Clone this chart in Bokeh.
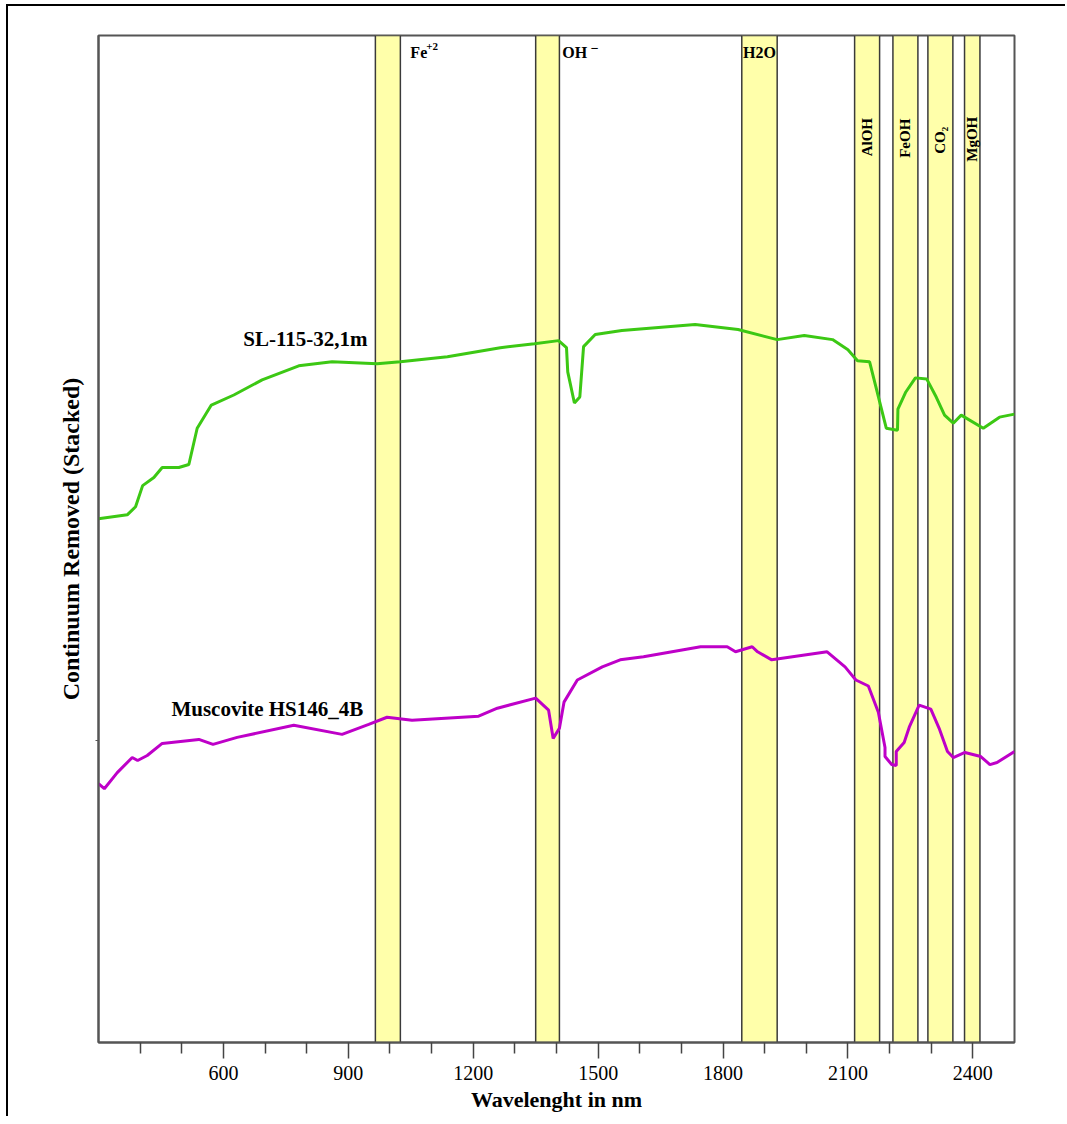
import numpy as np
from bokeh.plotting import figure
from bokeh.models import Range1d, FixedTicker, ColumnDataSource
from bokeh.core.properties import value
from bokeh.embed import file_html
from bokeh.resources import INLINE

# Continuum-removed spectra, stacked (wavelength in nm, offset reflectance)
sl_wl = [300, 369, 389, 406, 433, 453, 493, 517, 537, 571, 625, 693, 781, 861, 969, 1025,
         1138, 1265, 1347, 1405, 1424, 1427, 1443, 1456, 1465, 1493, 1557, 1733, 1836, 1930,
         1995, 2063, 2100, 2123, 2152, 2192, 2219, 2220, 2239, 2262, 2289, 2312, 2332, 2353,
         2372, 2425, 2464, 2500]
sl_cr = [52.0, 52.4, 53.2, 55.3, 56.1, 57.1, 57.1, 57.4, 61.0, 63.3, 64.3, 65.8, 67.2, 67.6,
         67.4, 67.6, 68.1, 69.0, 69.4, 69.7, 69.0, 66.6, 63.5, 64.1, 69.1, 70.3, 70.7, 71.3,
         70.8, 69.8, 70.2, 69.8, 68.8, 67.7, 67.6, 61.0, 60.8, 62.9, 64.6, 66.0, 65.9, 64.1,
         62.3, 61.5, 62.3, 61.0, 62.1, 62.4]

mus_wl = [300, 314, 345, 381, 394, 417, 453, 541, 575, 633, 769, 885, 949, 993, 1053, 1213,
          1258, 1350, 1381, 1392, 1407, 1418, 1450, 1510, 1553, 1609, 1746, 1810, 1830, 1870,
          1883, 1917, 2050, 2093, 2119, 2149, 2173, 2189, 2189, 2205, 2216, 2216, 2235, 2248,
          2271, 2299, 2319, 2339, 2353, 2381, 2419, 2441, 2458, 2500]
mus_cr = [25.7, 25.2, 26.8, 28.3, 28.0, 28.5, 29.7, 30.1, 29.6, 30.3, 31.5, 30.6, 31.6, 32.3,
          32.0, 32.4, 33.2, 34.2, 33.0, 30.2, 31.2, 33.8, 36.0, 37.3, 38.0, 38.3, 39.3, 39.3,
          38.8, 39.3, 38.8, 38.0, 38.8, 37.3, 36.0, 35.4, 32.8, 29.3, 28.4, 27.6, 27.5, 28.9,
          29.8, 31.4, 33.5, 33.1, 31.2, 28.9, 28.3, 28.8, 28.4, 27.6, 27.8, 28.9]

# Absorption feature windows (nm)
band_names = ["Fe+2", "OH-", "H2O", "AlOH", "FeOH", "CO2", "MgOH"]
band_start = [965, 1350, 1845, 2116, 2208, 2292, 2380]
band_end = [1025, 1407, 1930, 2176, 2268, 2352, 2417]

x_major = [600, 900, 1200, 1500, 1800, 2100, 2400]
x_minor = [400, 500, 700, 800, 1000, 1100, 1300, 1400, 1600, 1700, 1900, 2000, 2200, 2300]

SERIF = value("Liberation Serif")

p = figure(width=1059, height=1112,
           x_range=Range1d(300, 2500), y_range=Range1d(0, 100),
           output_backend="svg", toolbar_location=None,
           min_border_left=90, min_border_right=53, min_border_top=29, min_border_bottom=76,
           background_fill_color="white", border_fill_color="white",
           styles={"margin-left": "6px", "margin-top": "4px",
                   "border-left": "2px solid #000", "border-top": "2px solid #000"})
p.grid.visible = False
p.outline_line_color = "#555555"
p.outline_line_width = 2

# x axis
xa = p.xaxis[0]
xa.ticker = FixedTicker(ticks=x_major, minor_ticks=x_minor)
xa.axis_label = "Wavelenght in nm"
xa.axis_label_text_font = "Liberation Serif"
xa.axis_label_text_font_size = "22px"
xa.axis_label_text_font_style = "bold"
xa.axis_label_text_color = "black"
xa.axis_label_standoff = 4
xa.major_label_text_font = "Liberation Serif"
xa.major_label_text_font_size = "20px"
xa.major_label_text_color = "black"
xa.major_label_standoff = 7
xa.major_tick_out = 16
xa.major_tick_in = 0
xa.minor_tick_out = 11
xa.minor_tick_in = 0
xa.axis_line_color = "#555555"
xa.axis_line_width = 2
xa.major_tick_line_color = "#444444"
xa.major_tick_line_width = 1.5
xa.minor_tick_line_color = "#444444"
xa.minor_tick_line_width = 1.5

# y axis
ya = p.yaxis[0]
ya.ticker = FixedTicker(ticks=[30], minor_ticks=[])
ya.major_label_overrides = {30: ""}
ya.major_tick_out = 3
ya.major_tick_in = 0
ya.major_label_standoff = 0
ya.axis_label = "Continuum Removed (Stacked)"
ya.axis_label_text_font = "Liberation Serif"
ya.axis_label_text_font_size = "24px"
ya.axis_label_text_font_style = "bold"
ya.axis_label_text_color = "black"
ya.axis_label_standoff = 12
ya.axis_line_color = "#555555"
ya.axis_line_width = 2
ya.major_tick_line_color = "#555555"

# feature windows
p.quad(left=band_start, right=band_end, bottom=0, top=100,
       fill_color="#FFFFAA", line_color="#3a3a3a", line_width=1.5)

# spectra
p.line(sl_wl, sl_cr, line_color="#3CC814", line_width=3)
p.line(mus_wl, mus_cr, line_color="#BE00C8", line_width=3)

# spectrum names
names = ColumnDataSource(dict(x=[946, 936], y=[69.9, 33.1],
                              t=["SL-115-32,1m", "Muscovite HS146_4B"]))
p.text(x="x", y="y", text="t", source=names, text_font=SERIF, text_font_style="bold",
       text_font_size="21px", text_align="right", text_baseline="middle", text_color="black")

# horizontal feature labels
top_lbl = ColumnDataSource(dict(x=[1049, 1414, 1887.5], y=[98.36, 98.36, 98.36],
                                t=["Fe", "OH", "H2O"], a=["left", "left", "center"]))
p.text(x="x", y="y", text="t", source=top_lbl, text_font=SERIF, text_font_style="bold",
       text_font_size="16px", text_align="a", text_baseline="middle", text_color="black")
sup_lbl = ColumnDataSource(dict(x=[1087, 1482], y=[98.93, 98.74], t=["+2", "\u2212"],
                                s=["11px", "14px"]))
p.text(x="x", y="y", text="t", source=sup_lbl, text_font=SERIF, text_font_style="bold",
       text_font_size="s", text_align="left", text_baseline="middle", text_color="black")

# vertical feature labels
side_lbl = ColumnDataSource(dict(x=[2146, 2238, 2322, 2398.5], y=[89.9, 89.8, 89.6, 89.7],
                                 t=["AlOH", "FeOH", "CO\u2082", "MgOH"]))
p.text(x="x", y="y", text="t", source=side_lbl, angle=np.pi / 2, text_font=SERIF,
       text_font_style="bold", text_font_size="15px", text_align="center",
       text_baseline="middle", text_color="black")

open("out.html", "w").write(file_html(p, INLINE))
